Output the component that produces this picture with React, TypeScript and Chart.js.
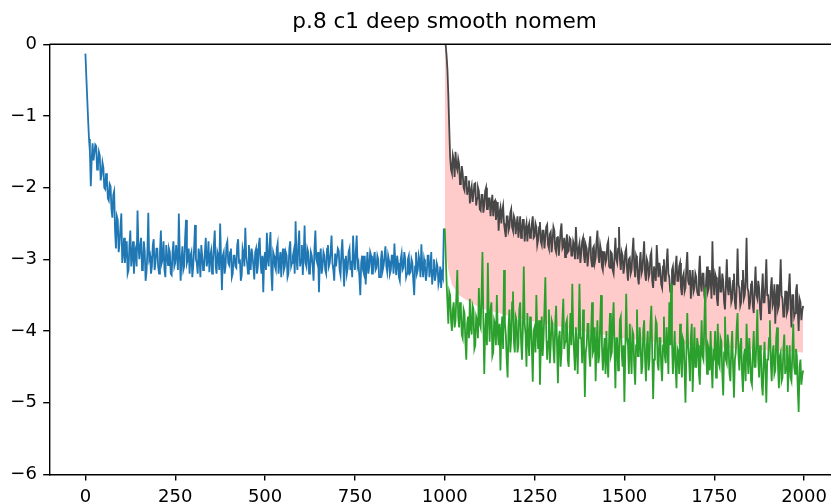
import React, { useEffect, useRef } from 'react';
import { Chart, registerables } from 'chart.js';

Chart.register(...registerables);

const TITLE = 'p.8 c1 deep smooth nomem';
const X_TICKS = [0, 250, 500, 750, 1000, 1250, 1500, 1750, 2000];
const Y_TICKS = [-6, -5, -4, -3, -2, -1, 0];
const STEP = 2.5;
const PHASE1_START = 0;
const PHASE2_START = 1000;

// phase 1 (blue), x = 0, 2.5, ..., 997.5  (20 values per 50 steps)
const BLUE = [
  -0.13, -0.45, -0.75, -1.05, -1.32, -1.5, -1.98, -1.6, -1.38, -1.62, -1.52, -1.4, -1.42, -1.75, -1.68, -1.5, -1.55, -1.9, -1.82, -1.65,
  -1.72, -2.0, -2.02, -1.8, -1.9, -2.15, -2.18, -1.95, -1.98, -2.3, -2.42, -2.1, -2.05, -2.6, -2.85, -2.4, -2.45, -2.9, -2.78, -2.55,
  -2.36, -3.05, -2.9, -2.7, -3.05, -2.85, -2.75, -3.2, -3.15, -2.8, -2.6, -3.1, -2.95, -2.75, -3.2, -2.9, -2.85, -3.1, -2.32, -2.8,
  -3.0, -2.8, -2.7, -3.15, -3.12, -2.75, -2.88, -3.3, -3.18, -2.9, -2.35, -3.0, -2.95, -3.2, -3.1, -2.8, -2.72, -3.15, -3.05, -2.85,
  -2.85, -3.1, -3.2, -2.9, -2.6, -3.05, -3.0, -2.75, -3.15, -3.25, -2.8, -2.95, -3.08, -2.85, -2.9, -3.2, -3.22, -2.9, -2.75, -3.1,
  -3.05, -2.8, -2.95, -3.15, -2.36, -2.9, -3.3, -3.0, -2.82, -3.15, -3.1, -2.7, -2.45, -3.05, -3.0, -2.85, -3.2, -2.95, -2.9, -3.25,
  -3.1, -2.85, -2.52, -3.0, -3.05, -3.2, -2.85, -2.95, -3.25, -2.8, -2.95, -3.15, -3.12, -2.9, -2.7, -3.1, -3.02, -2.75, -3.18, -2.95,
  -2.88, -3.2, -3.05, -2.8, -2.6, -3.1, -3.2, -2.9, -2.95, -3.15, -2.5, -3.0, -3.43, -2.95, -2.9, -3.2, -3.1, -2.8, -2.75, -3.05,
  -3.08, -2.9, -2.85, -3.25, -3.2, -2.95, -2.95, -3.1, -3.12, -2.8, -2.72, -3.05, -3.0, -3.3, -3.22, -2.85, -2.92, -3.1, -2.56, -2.95,
  -3.05, -3.2, -2.8, -2.95, -3.15, -2.85, -2.95, -3.1, -3.28, -2.9, -2.85, -3.2, -3.1, -2.8, -2.7, -3.05, -3.2, -2.95, -3.46, -3.0,
  -2.9, -3.15, -2.63, -3.0, -3.1, -2.8, -2.62, -3.2, -3.44, -2.9, -2.95, -3.1, -3.15, -2.85, -2.78, -3.2, -3.05, -2.9, -3.25, -2.95,
  -2.85, -3.15, -3.1, -2.9, -2.95, -3.25, -3.2, -2.85, -2.75, -3.1, -3.05, -2.95, -2.88, -3.2, -2.47, -3.0, -3.15, -2.8, -2.6, -3.1,
  -3.0, -2.8, -3.22, -2.95, -2.53, -3.05, -3.1, -2.85, -2.9, -3.2, -3.15, -2.9, -2.95, -3.1, -3.3, -2.85, -2.6, -3.0, -3.05, -2.9,
  -3.46, -3.0, -2.85, -3.2, -3.1, -2.9, -2.95, -3.15, -3.2, -2.85, -2.8, -3.1, -3.05, -2.9, -2.67, -3.05, -3.15, -3.3, -2.92, -3.1,
  -3.1, -2.85, -2.88, -3.15, -3.22, -2.9, -2.72, -3.05, -3.38, -3.0, -2.95, -3.2, -3.12, -2.9, -2.85, -3.15, -3.02, -3.25, -2.67, -3.0,
  -3.15, -2.9, -2.67, -3.1, -3.05, -3.25, -3.5, -3.05, -2.95, -3.15, -3.2, -2.95, -3.35, -3.1, -2.9, -3.2, -3.1, -2.9, -2.95, -3.2,
  -3.2, -3.0, -2.9, -3.15, -3.12, -2.95, -3.0, -3.25, -3.25, -3.0, -2.88, -3.15, -3.08, -2.95, -2.82, -3.1, -3.18, -2.95, -3.02, -3.2,
  -3.15, -2.95, -2.95, -3.2, -2.78, -3.05, -3.22, -2.95, -3.05, -3.25, -3.3, -3.0, -2.92, -3.15, -3.12, -2.9, -3.0, -3.25, -3.2, -3.0,
  -2.95, -3.2, -3.18, -3.0, -3.05, -3.3, -3.5, -3.1, -2.9, -3.2, -3.15, -2.95, -3.02, -3.25, -2.79, -3.1, -3.25, -3.0, -3.08, -3.3,
  -3.2, -2.95, -2.95, -3.25, -3.12, -2.9, -3.35, -3.15, -3.0, -3.3, -3.22, -3.05, -3.1, -3.35, -3.28, -3.1, -3.4, -3.2, -3.25, -2.57,
];

// phase 2 upper run (dark grey), x = 1000, 1002.5, ..., 1997.5
const GRAY = [
  0.3, 0.0, -0.15, -0.35, -0.7, -1.15, -1.57, -1.75, -1.8, -1.55, -1.62, -1.85, -1.5, -1.7, -1.75, -1.6, -1.67, -1.95, -1.9, -1.7,
  -1.8, -2.0, -2.04, -1.85, -1.85, -2.1, -2.0, -1.9, -2.22, -2.05, -1.98, -2.2, -2.1, -1.95, -1.94, -2.25, -2.15, -2.0, -2.05, -2.3,
  -2.32, -2.1, -2.1, -2.35, -2.25, -2.05, -2.0, -2.3, -2.3, -2.15, -2.15, -2.4, -2.22, -2.1, -2.4, -2.2, -2.18, -2.45, -2.35, -2.2,
  -2.6, -2.35, -2.28, -2.5, -2.32, -2.25, -2.5, -2.6, -2.69, -2.4, -2.4, -2.6, -2.55, -2.35, -2.3, -2.55, -2.6, -2.4, -2.45, -2.65,
  -2.52, -2.4, -2.7, -2.55, -2.4, -2.7, -2.62, -2.45, -2.45, -2.75, -2.58, -2.5, -2.75, -2.55, -2.5, -2.7, -2.65, -2.5, -2.4, -2.7,
  -2.68, -2.5, -2.55, -2.8, -2.73, -2.55, -2.48, -2.75, -2.8, -2.6, -2.6, -2.85, -2.7, -2.55, -2.52, -2.8, -2.85, -2.65, -2.62, -2.9,
  -2.75, -2.55, -2.6, -2.85, -2.9, -2.7, -2.68, -2.95, -2.78, -2.6, -2.5, -2.85, -2.82, -2.7, -2.97, -2.8, -2.65, -2.9, -2.88, -2.7,
  -2.72, -2.95, -2.95, -2.75, -2.8, -3.0, -2.55, -2.8, -3.0, -2.85, -2.78, -3.05, -2.9, -2.75, -2.7, -2.95, -3.05, -2.8, -2.85, -3.1,
  -2.95, -2.8, -2.68, -3.0, -3.1, -2.85, -2.82, -3.05, -2.98, -2.75, -2.6, -2.95, -3.05, -2.8, -2.88, -3.1, -3.15, -2.9, -2.9, -3.05,
  -3.0, -2.8, -2.75, -3.1, -3.12, -2.9, -2.92, -3.15, -3.2, -2.95, -2.7, -3.0, -3.05, -2.85, -2.55, -3.0, -3.15, -2.9, -2.95, -3.2,
  -3.1, -2.9, -2.85, -3.15, -3.3, -3.0, -2.98, -3.2, -3.15, -2.9, -2.7, -3.1, -3.25, -2.95, -3.0, -3.25, -3.35, -3.05, -2.9, -3.2,
  -3.15, -2.95, -2.75, -3.2, -3.3, -3.0, -3.05, -3.25, -3.2, -2.95, -2.9, -3.3, -3.4, -3.1, -3.1, -3.3, -2.8, -3.05, -3.25, -3.05,
  -3.15, -3.35, -3.4, -3.1, -3.0, -3.3, -3.3, -3.05, -2.85, -3.2, -3.25, -3.45, -3.45, -3.15, -3.1, -3.35, -3.35, -3.1, -2.95, -3.3,
  -3.3, -3.1, -3.05, -3.4, -3.5, -3.25, -3.2, -3.45, -3.4, -3.1, -2.9, -3.3, -3.35, -3.15, -3.55, -3.3, -3.15, -3.45, -3.4, -3.2,
  -3.25, -3.45, -3.5, -3.2, -2.95, -3.35, -3.45, -3.2, -3.2, -3.5, -3.6, -3.3, -3.1, -3.45, -3.4, -3.15, -3.3, -3.55, -2.75, -3.3,
  -3.5, -3.2, -3.25, -3.55, -3.65, -3.35, -3.1, -3.45, -3.45, -3.2, -3.3, -3.6, -3.7, -3.35, -3.0, -3.4, -3.5, -3.25, -3.35, -3.6,
  -3.55, -3.3, -3.2, -3.6, -3.7, -3.4, -2.85, -3.35, -3.4, -3.65, -3.6, -3.3, -3.15, -3.55, -3.5, -3.25, -2.7, -3.4, -3.45, -3.7,
  -3.6, -3.35, -3.3, -3.65, -3.75, -3.4, -3.1, -3.5, -3.55, -3.3, -3.4, -3.7, -3.85, -3.45, -3.2, -3.6, -3.6, -3.35, -3.0, -3.5,
  -3.5, -3.75, -3.7, -3.4, -3.25, -3.65, -3.6, -3.35, -3.9, -3.55, -3.35, -3.7, -3.65, -3.4, -3.0, -3.5, -3.55, -3.8, -3.8, -3.45,
  -3.45, -3.75, -3.7, -3.4, -3.2, -3.65, -3.95, -3.5, -3.5, -3.8, -3.75, -3.45, -3.35, -3.7, -4.0, -3.55, -3.6, -3.85, -3.72, -3.65,
];

// phase 2 lower run (green), x = 1000, 1002.5, ..., 1997.5
const GREEN = [
  -2.57, -2.9, -3.3, -3.6, -3.9, -3.45, -3.5, -3.85, -4.0, -3.7, -3.6, -3.95, -3.85, -3.5, -3.15, -3.8, -3.95, -3.6, -3.7, -4.05,
  -4.1, -3.7, -3.75, -4.15, -4.4, -3.9, -3.8, -4.1, -3.55, -3.95, -4.05, -3.65, -3.7, -4.25, -4.2, -3.8, -3.85, -4.1, -3.4, -3.9,
  -3.95, -3.5, -2.9, -3.85, -4.6, -4.0, -3.75, -4.2, -3.05, -3.8, -4.15, -3.7, -3.6, -4.35, -4.3, -3.85, -3.9, -4.2, -3.5, -4.0,
  -4.2, -3.9, -4.55, -4.0, -3.8, -4.25, -3.15, -3.9, -4.05, -4.4, -4.65, -3.95, -3.7, -4.3, -4.1, -3.6, -3.45, -4.15, -4.3, -3.8,
  -3.85, -4.3, -4.2, -3.7, -3.6, -4.15, -4.4, -3.95, -3.1, -3.9, -4.05, -4.5, -3.75, -4.1, -4.35, -3.8, -3.9, -4.25, -4.71, -4.0,
  -3.95, -4.3, -3.5, -4.0, -4.25, -3.85, -4.75, -4.2, -3.8, -4.35, -4.1, -3.7, -3.25, -4.0, -4.4, -4.15, -3.7, -4.45, -4.2, -3.85,
  -3.9, -4.25, -4.45, -3.9, -3.65, -4.2, -4.73, -4.1, -4.0, -4.5, -4.3, -3.85, -3.55, -4.25, -4.15, -3.9, -3.85, -4.4, -4.5, -4.05,
  -3.75, -4.2, -3.34, -4.0, -4.3, -4.55, -3.95, -4.2, -4.6, -4.0, -3.34, -4.1, -4.1, -4.45, -3.7, -4.2, -4.92, -4.3, -4.2, -3.9,
  -3.9, -4.35, -4.5, -4.0, -3.6, -4.3, -4.25, -3.95, -4.7, -4.2, -3.85, -4.45, -4.35, -3.9, -3.5, -4.2, -4.55, -4.3, -4.1, -4.6,
  -4.0, -4.4, -4.65, -4.1, -3.75, -4.35, -4.3, -3.9, -3.6, -4.25, -4.8, -4.1, -4.1, -4.55, -4.4, -3.85, -3.8, -4.3, -4.5, -4.2,
  -4.99, -4.3, -3.48, -4.1, -4.2, -4.6, -3.9, -4.3, -4.6, -4.0, -4.05, -4.5, -4.75, -4.2, -3.7, -4.35, -4.35, -3.95, -4.15, -4.6,
  -4.5, -4.0, -3.85, -4.4, -4.7, -4.2, -4.0, -4.55, -4.4, -3.9, -3.65, -4.3, -4.95, -4.4, -4.25, -3.85, -3.9, -4.45, -4.55, -4.1,
  -4.1, -4.5, -4.7, -4.2, -3.8, -4.35, -4.45, -3.95, -4.2, -4.6, -3.6, -4.2, -3.34, -4.15, -4.6, -4.3, -4.0, -4.5, -4.8, -4.25,
  -4.3, -4.6, -3.9, -4.35, -4.65, -4.1, -4.15, -4.55, -5.0, -4.3, -3.75, -4.2, -4.4, -4.7, -4.1, -3.9, -4.85, -4.4, -3.95, -4.5,
  -4.5, -4.1, -4.2, -4.6, -4.75, -4.3, -3.85, -4.35, -4.4, -3.9, -3.39, -4.25, -4.6, -4.2, -4.25, -4.55, -4.0, -4.45, -4.8, -4.3,
  -4.35, -4.0, -4.65, -4.3, -3.9, -4.45, -4.5, -4.1, -4.15, -4.6, -4.9, -4.3, -3.8, -4.4, -4.45, -4.05, -4.2, -4.6, -4.7, -4.25,
  -4.0, -4.5, -4.93, -4.4, -4.3, -3.95, -3.75, -4.35, -4.55, -4.2, -4.1, -4.6, -4.85, -4.35, -4.25, -4.7, -3.9, -4.3, -4.6, -4.1,
  -4.35, -4.7, -4.75, -4.3, -4.0, -4.5, -4.5, -4.15, -3.7, -4.4, -4.65, -4.2, -4.3, -4.75, -4.9, -4.45, -4.15, -4.55, -5.0, -4.4,
  -4.4, -4.1, -3.85, -4.45, -4.7, -4.3, -4.2, -4.6, -4.55, -4.1, -3.95, -4.5, -4.8, -4.35, -4.3, -4.7, -4.65, -4.25, -4.05, -4.6,
  -4.5, -4.2, -4.85, -4.45, -4.2, -4.65, -4.7, -4.3, -3.9, -4.5, -4.6, -4.25, -4.35, -4.8, -5.13, -4.5, -4.4, -4.75, -4.62, -4.55,
];

// lower edge of the shaded band
const BAND_X = [1000, 1005, 1010, 1020, 1040, 1070, 1100, 1150, 1200, 1300, 1400, 1500, 1600, 1700, 1800, 1900, 1997.5];
const BAND_LOW = [-2.57, -2.95, -3.15, -3.35, -3.5, -3.6, -3.68, -3.75, -3.82, -3.92, -4.02, -4.1, -4.16, -4.2, -4.24, -4.27, -4.3];

const FONT = '"DejaVu Sans", sans-serif';
const fmt = (v: number) => (v < 0 ? '\u2212' + Math.abs(v) : String(v));
const toPts = (ys: number[], start: number) => ys.map((y, i) => ({ x: start + i * STEP, y }));

const framePlugin = {
  id: 'frameTitle',
  afterDraw(chart: any) {
    const { ctx, chartArea: a } = chart;
    ctx.save();
    ctx.strokeStyle = '#000';
    ctx.lineWidth = 1.4;
    ctx.beginPath();
    ctx.moveTo(a.left, a.top);
    ctx.lineTo(a.right, a.top);
    ctx.lineTo(a.right, a.bottom);
    ctx.stroke();
    ctx.fillStyle = '#000';
    ctx.font = '21.6px ' + FONT;
    ctx.textAlign = 'center';
    ctx.textBaseline = 'alphabetic';
    ctx.fillText(TITLE, (a.left + a.right) / 2, a.top - 16);
    ctx.restore();
  },
};

export default function App() {
  const ref = useRef<HTMLCanvasElement | null>(null);
  useEffect(() => {
    if (!ref.current) return;
    const band = BAND_X.map((x, i) => ({ x, y: BAND_LOW[i] }));
    const axisCommon = {
      type: 'linear' as const,
      grid: { display: true, drawOnChartArea: false, drawTicks: true, tickLength: 6.3, color: '#000', lineWidth: 1.4 },
      border: { display: true, color: '#000', width: 1.4 },
    };
    const chart = new Chart(ref.current, {
      type: 'line',
      data: {
        datasets: [
          { label: 'green', data: toPts(GREEN, PHASE2_START), borderColor: '#2ca02c', borderWidth: 1.8, pointRadius: 0, fill: false, order: 0, tension: 0 },
          { label: 'grey', data: toPts(GRAY, PHASE2_START), borderColor: '#474747', borderWidth: 1.8, pointRadius: 0, fill: { target: 3 }, backgroundColor: '#ffcaca', order: 1, tension: 0 },
          { label: 'blue', data: toPts(BLUE, PHASE1_START), borderColor: '#1f77b4', borderWidth: 1.8, pointRadius: 0, fill: false, order: 2, tension: 0 },
          { label: 'band', data: band, borderColor: 'rgba(0,0,0,0)', borderWidth: 1, pointRadius: 0, fill: false, order: 3, tension: 0 },
        ],
      },
      options: {
        animation: false,
        responsive: false,
        events: [],
        layout: { padding: { left: 0, top: 44.3, right: 20.4, bottom: 0 } },
        plugins: {
          legend: { display: false },
          title: { display: false },
          tooltip: { enabled: false },
          filler: { drawTime: 'beforeDatasetsDraw' },
        },
        scales: {
          x: {
            ...axisCommon,
            min: -99.95,
            max: 2098.95,
            afterBuildTicks: (s: any) => { s.ticks = X_TICKS.map((v) => ({ value: v })); },
            afterFit: (s: any) => { s.height = 27.7; },
            ticks: { font: { family: FONT, size: 18 }, color: '#000', padding: 6, maxRotation: 0, autoSkip: false, callback: (v: any) => fmt(Number(v)) },
          },
          y: {
            ...axisCommon,
            min: -6,
            max: 0,
            afterBuildTicks: (s: any) => { s.ticks = Y_TICKS.map((v) => ({ value: v })); },
            afterFit: (s: any) => { s.width = 49.5; },
            ticks: { font: { family: FONT, size: 18 }, color: '#000', padding: 6.3, autoSkip: false, callback: (v: any) => fmt(Number(v)) },
          },
        },
      },
      plugins: [framePlugin],
    });
    return () => chart.destroy();
  }, []);

  return (
    <div style={{ position: 'absolute', left: 0, top: 0, width: 831, height: 502, overflow: 'hidden', background: '#fff' }}>
      <canvas ref={ref} width={860} height={502} style={{ display: 'block' }} />
    </div>
  );
}
